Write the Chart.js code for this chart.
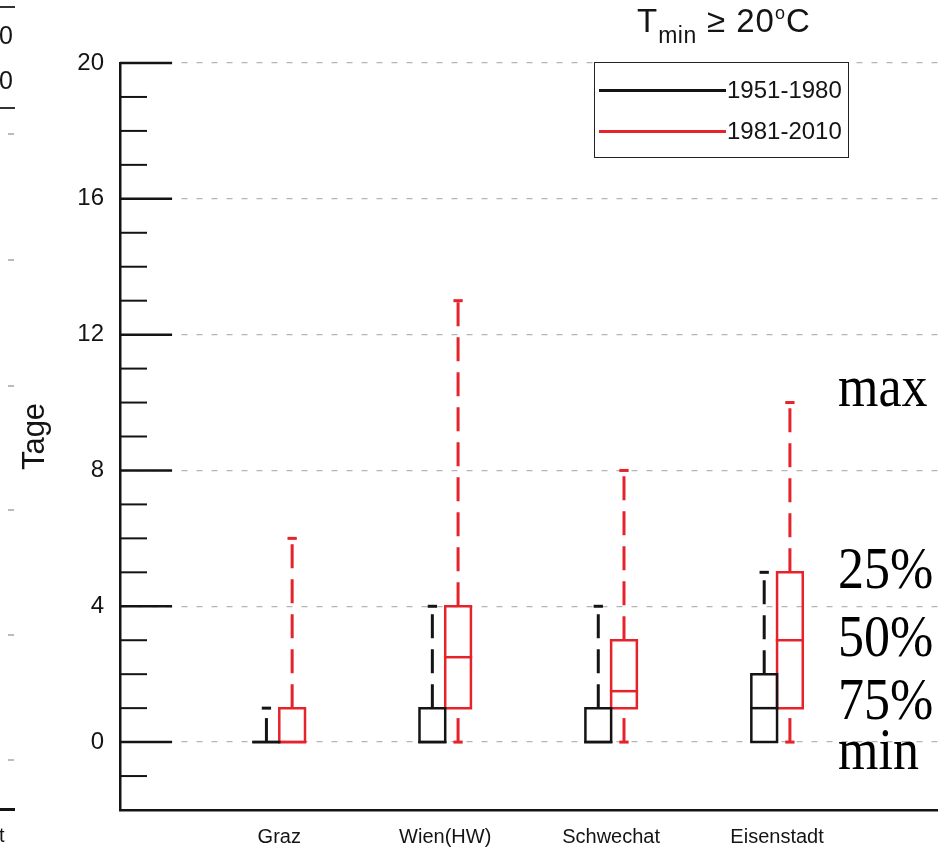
<!DOCTYPE html>
<html>
<head>
<meta charset="utf-8">
<script src="https://cdn.jsdelivr.net/npm/chart.js@4.4.1/dist/chart.umd.min.js"></script>
<style>
  body { margin: 0; background: #fff; }
  #page { position: relative; width: 938px; height: 853px; overflow: hidden; font-family: "Liberation Sans", Arial, sans-serif; color: #141414; }
  #chartBox { position: absolute; left: 0; top: 0; width: 938px; height: 853px; }
  .abs { position: absolute; white-space: nowrap; }
  #title { left: 637px; top: 1px; font-size: 33px; line-height: 40px; letter-spacing: 1px; }
  #title sub { font-size: 23px; vertical-align: -11px; line-height: 0; letter-spacing: 0.5px; }
  #title sup { font-size: 18px; vertical-align: 13px; line-height: 0; }
  #legend { left: 594px; top: 62px; width: 253px; height: 94px; border: 1.5px solid #222; background: #fff; }
  .legLine { position: absolute; left: 4px; width: 127px; height: 2.5px; }
  .legText { position: absolute; left: 132px; font-size: 24px; line-height: 24px; }
  .note { font-family: "Liberation Serif", "Times New Roman", serif; font-size: 52px; line-height: 52px; transform: scaleY(1.15); transform-origin: 0 43px; color: #000; }
  .frag { background: #333; height: 2px; left: 0; width: 15px; }
  .gtick { background: #bbb; height: 1.5px; left: 8px; width: 6px; }
</style>
</head>
<body>
<div id="page">
  <div id="chartBox"><canvas id="boxChart"></canvas></div>

  <!-- cut-off edge of the neighbouring panel -->
  <div class="abs frag" style="top:6px"></div>
  <div class="abs" style="left:-1px;top:22px;font-size:25px;line-height:26px">0</div>
  <div class="abs" style="left:-1px;top:67px;font-size:25px;line-height:26px">0</div>
  <div class="abs frag" style="top:107px"></div>
  <div class="abs gtick" style="top:133px"></div>
  <div class="abs gtick" style="top:259px"></div>
  <div class="abs gtick" style="top:385px"></div>
  <div class="abs gtick" style="top:509px"></div>
  <div class="abs gtick" style="top:634px"></div>
  <div class="abs gtick" style="top:759px"></div>
  <div class="abs frag" style="top:808px;height:3px;background:#141414"></div>
  <div class="abs" style="left:-1px;top:823px;font-size:20px;line-height:24px">t</div>

  <div id="title" class="abs">T<sub>min</sub> ≥ 20<sup>o</sup>C</div>

  <div id="legend" class="abs">
    <div class="legLine" style="top:26px;background:#141414"></div>
    <div class="legText" style="top:15px">1951-1980</div>
    <div class="legLine" style="top:67px;background:#e5232a"></div>
    <div class="legText" style="top:56px">1981-2010</div>
  </div>

  <div class="abs note" style="left:838px;top:363px">max</div>
  <div class="abs note" style="left:838px;top:545px">25%</div>
  <div class="abs note" style="left:838px;top:613px">50%</div>
  <div class="abs note" style="left:838px;top:676px">75%</div>
  <div class="abs note" style="left:838px;top:726px">min</div>
</div>

<script>
// stations on the x axis
const stations = ['Graz', 'Wien(HW)', 'Schwechat', 'Eisenstadt'];
const periods = ['1951-1980', '1981-2010'];
const periodColors = ['#141414', '#e5232a'];

// days with Tmin >= 20 °C, 1951-1980
const min5180 = [0, 0, 0, 0];
const q1_5180 = [0, 0, 0, 0];
const med5180 = [0, 0, 0, 1];
const q3_5180 = [0, 1, 1, 2];
const max5180 = [1, 4, 4, 5];

// days with Tmin >= 20 °C, 1981-2010
const min8110 = [0, 0, 0, 0];
const q1_8110 = [0, 1, 1, 1];
const med8110 = [0, 2.5, 1.5, 3];
const q3_8110 = [1, 4, 3, 5];
const max8110 = [6, 13, 8, 10];

const yTicks = [0, 4, 8, 12, 16, 20];

const stats = [
  { min: min5180, q1: q1_5180, med: med5180, q3: q3_5180, max: max5180 },
  { min: min8110, q1: q1_8110, med: med8110, q3: q3_8110, max: max8110 }
];

const BOX_W = 0.155;   // box width in x units
const CAP = 0.028;     // half width of whisker caps

const datasets = [];

function addLine(points, color, extra) {
  datasets.push(Object.assign({
    data: points,
    showLine: true,
    borderColor: color,
    borderWidth: 2.5,
    borderCapStyle: 'square',
    pointRadius: 0,
    pointHoverRadius: 0,
    fill: false,
    tension: 0
  }, extra || {}));
}

stats.forEach((s, p) => {
  const color = periodColors[p];
  stations.forEach((name, i) => {
    const pos = i + 1;
    const x0 = p === 0 ? pos - BOX_W : pos;
    const x1 = p === 0 ? pos : pos + BOX_W;
    const xc = (x0 + x1) / 2;
    // box
    addLine([
      { x: x0, y: s.q1[i] }, { x: x1, y: s.q1[i] },
      { x: x1, y: s.q3[i] }, { x: x0, y: s.q3[i] },
      { x: x0, y: s.q1[i] }
    ], color);
    // median
    addLine([{ x: x0, y: s.med[i] }, { x: x1, y: s.med[i] }], color);
    // upper whisker + cap
    if (s.max[i] > s.q3[i]) {
      addLine([{ x: xc, y: s.q3[i] }, { x: xc, y: s.max[i] }], color,
        { borderWidth: 3, borderDash: [24, 11], borderCapStyle: 'butt' });
      addLine([{ x: xc - CAP, y: s.max[i] }, { x: xc + CAP, y: s.max[i] }], color,
        { borderWidth: 3, borderCapStyle: 'butt' });
    }
    // lower whisker + cap
    if (s.min[i] < s.q1[i]) {
      addLine([{ x: xc, y: s.min[i] }, { x: xc, y: s.q1[i] }], color,
        { borderWidth: 3, borderDash: [24, 11], borderCapStyle: 'butt' });
      addLine([{ x: xc - CAP, y: s.min[i] }, { x: xc + CAP, y: s.min[i] }], color,
        { borderWidth: 3, borderCapStyle: 'butt' });
    }
  });
});

// short tick marks pointing into the plot (long ones at the labelled values)
const innerTicks = {
  id: 'innerTicks',
  afterDraw(chart) {
    const y = chart.scales.y;
    const left = chart.chartArea.left;
    const ctx = chart.ctx;
    ctx.save();
    ctx.strokeStyle = '#141414';
    for (let v = y.min + 1; v <= y.max; v++) {
      const py = y.getPixelForValue(v);
      const major = yTicks.includes(v);
      ctx.lineWidth = major ? 2.5 : 2;
      ctx.beginPath();
      ctx.moveTo(left, py);
      ctx.lineTo(left + (major ? 52 : 27), py);
      ctx.stroke();
    }
    ctx.restore();
  }
};

new Chart(document.getElementById('boxChart'), {
  type: 'scatter',
  data: { datasets: datasets },
  plugins: [innerTicks],
  options: {
    responsive: true,
    maintainAspectRatio: false,
    animation: false,
    events: [],
    layout: { padding: { top: 63, right: 0, bottom: 0, left: 0 } },
    plugins: {
      legend: { display: false },
      tooltip: { enabled: false }
    },
    scales: {
      x: {
        type: 'linear',
        min: 0.04,
        max: 4.97,
        grid: { display: false },
        border: { display: true, color: '#141414', width: 2.5 },
        afterBuildTicks: (scale) => { scale.ticks = stations.map((s, i) => ({ value: i + 1 })); },
        afterFit: (scale) => { scale.height = 43; },
        ticks: {
          autoSkip: false,
          maxRotation: 0,
          padding: 7,
          color: '#141414',
          font: { family: 'Liberation Sans', size: 20 },
          callback: (v) => stations[v - 1]
        }
      },
      y: {
        min: -2,
        max: 20,
        afterBuildTicks: (scale) => { scale.ticks = yTicks.map(v => ({ value: v })); },
        afterFit: (scale) => { scale.width = 120; },
        grid: { color: '#b5b5b5', lineWidth: 1.3, drawTicks: false },
        border: { display: true, color: '#141414', width: 2.5, dash: [6, 9] },
        ticks: {
          padding: 16,
          color: '#141414',
          font: { family: 'Liberation Sans', size: 24 }
        },
        title: {
          display: true,
          text: 'Tage',
          color: '#141414',
          font: { family: 'Liberation Sans', size: 31 },
          padding: { top: 17, bottom: 0 }
        }
      }
    }
  }
});
</script>
</body>
</html>
